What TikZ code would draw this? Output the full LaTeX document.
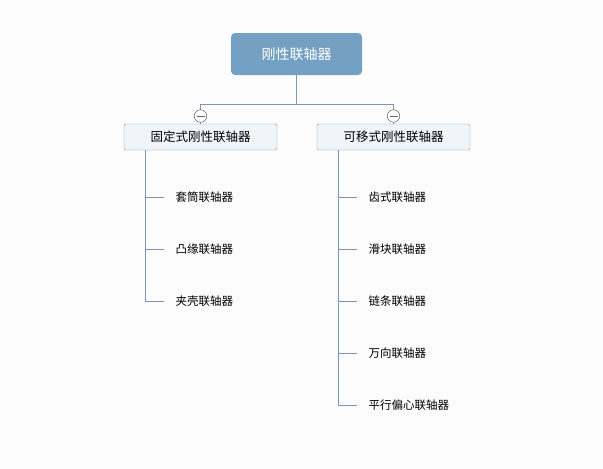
\documentclass[tikz,border=0pt]{standalone}
\usepackage{fontspec}
\setmainfont{Noto Sans CJK SC}
\definecolor{rootblue}{RGB}{116,161,195}
\definecolor{linkblue}{RGB}{122,150,180}
\definecolor{subfill}{RGB}{240,245,249}
\tikzset{
  rootbox/.style={draw=none, fill=rootblue, rounded corners=4pt, text=white, minimum width=131pt, minimum height=42pt, font=\fontsize{14}{16}\selectfont},
  subbox/.style={draw=linkblue, fill=subfill, rounded corners=2pt, minimum width=153pt, minimum height=26pt, font=\fontsize{12.5}{14}\selectfont},
  leaf/.style={anchor=west, font=\fontsize{11.5}{13}\selectfont},
  link/.style={draw=linkblue, line width=0.6pt},
  fold/.style={circle, draw=gray!80!black, fill=white, minimum size=12.5pt, inner sep=0pt, line width=0.5pt}
}
\begin{document}
\begin{tikzpicture}[x=1pt,y=-1pt]
	\useasboundingbox[fill={rgb,255:red,252;green,252;blue,252}] (0,0) rectangle (603,469);
	\node[rootbox] (root) at (296.5,54) {刚性联轴器};
	\node[subbox] (fixed) at (200.5,137) {固定式刚性联轴器};
	\node[subbox] (movable) at (393.5,137) {可移式刚性联轴器};
	\coordinate (hub) at (296.5,104);
	\draw[link] (root.south) -- (hub) -| (fixed.north);
	\draw[link] (hub) -| (movable.north);
	\node[fold] (foldL) at (200.5,116) {};
	\node[fold] (foldR) at (393.5,116) {};
	\draw[gray!80!black, line width=0.6pt] ([xshift=-4pt]foldL.center) -- ([xshift=4pt]foldL.center);
	\draw[gray!80!black, line width=0.6pt] ([xshift=-4pt]foldR.center) -- ([xshift=4pt]foldR.center);
	% fixed branch
	\foreach \t [count=\i] in {套筒联轴器,凸缘联轴器,夹壳联轴器}{
		\node[leaf] (fl\i) at (172,145+52*\i) {\t};
		\draw[link] (145,145+52*\i) -- (164,145+52*\i);
	}
	\draw[link] (145,150) -- (145,301);
	% movable branch
	\foreach \t [count=\i] in {齿式联轴器,滑块联轴器,链条联轴器,万向联轴器,平行偏心联轴器}{
		\node[leaf] (ml\i) at (365,145+52*\i) {\t};
		\draw[link] (338,145+52*\i) -- (357,145+52*\i);
	}
	\draw[link] (338,150) -- (338,405);
\end{tikzpicture}
\end{document}
